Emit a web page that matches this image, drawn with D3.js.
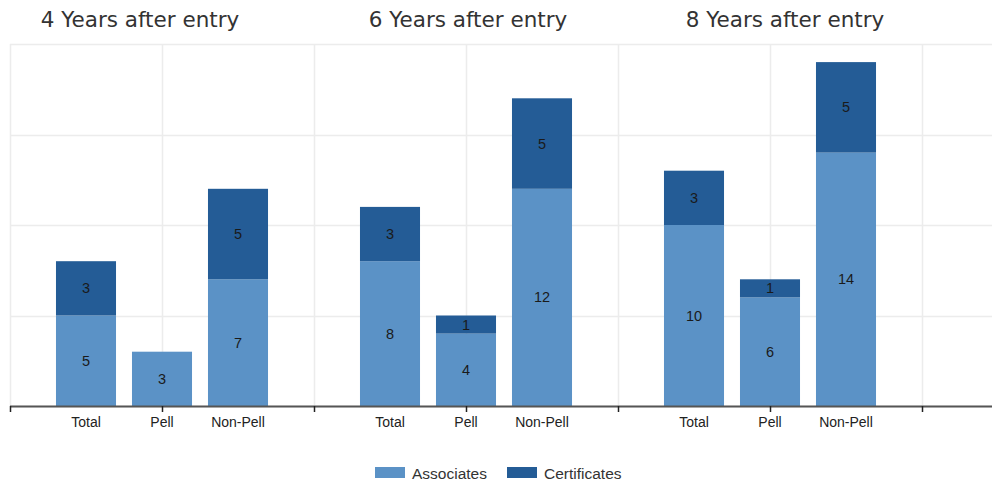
<!DOCTYPE html>
<html><head><meta charset="utf-8">
<script src="https://cdn.jsdelivr.net/npm/d3@7"></script>
<style>html,body{margin:0;padding:0;background:#fff;}svg{display:block;}</style>
</head><body>
<svg id="chart" width="992" height="487"></svg>
<script>
const panels = ["4 Years after entry", "6 Years after entry", "8 Years after entry"];
const categories = ["Total", "Pell", "Non-Pell"];
const seriesNames = ["Associates", "Certificates"];
const associates = [[5, 3, 7], [8, 4, 12], [10, 6, 14]];
const certificates = [[3, 0, 5], [3, 1, 5], [3, 1, 5]];
const yTicks = [0, 5, 10, 15, 20];
const colors = ["#5B92C6", "#245C96"];

(function () {
const svg = d3.select("#chart");
const pLeft = 10, pRight = 992, pTop = 44, pBottom = 406;
const slotW = 76;
const x = d3.scaleLinear().domain([0, (pRight - pLeft) / slotW]).range([pLeft, pRight]);
const y = d3.scaleLinear().domain([0, 20]).range([pBottom, pTop]);
const barW = 0.79;

// gridlines
svg.append("g").selectAll("line").data(yTicks).join("line")
  .attr("x1", pLeft).attr("x2", pRight)
  .attr("y1", d => Math.round(y(d)) + 0.5).attr("y2", d => Math.round(y(d)) + 0.5)
  .attr("stroke", "#ececec").attr("stroke-width", 1.5);
const xTicks = d3.range(0, 13, 2);
svg.append("g").selectAll("line").data(xTicks).join("line")
  .attr("x1", d => Math.round(x(d)) + 0.5).attr("x2", d => Math.round(x(d)) + 0.5)
  .attr("y1", pTop).attr("y2", pBottom)
  .attr("stroke", "#ececec").attr("stroke-width", 1.5);

// titles
const titleX = [140, 468, 785];
svg.append("g").selectAll("text").data(panels).join("text")
  .attr("x", (d, i) => titleX[i]).attr("y", 27)
  .attr("text-anchor", "middle")
  .attr("font-family", "DejaVu Sans, Verdana, sans-serif").attr("font-size", 21.5)
  .attr("fill", "#333").text(d => d);

// bars
const rows = [];
panels.forEach((p, pi) => {
  categories.forEach((c, ci) => {
    const slot = 1 + pi * 4 + ci;
    const a = associates[pi][ci], ce = certificates[pi][ci];
    rows.push({slot, y0: 0, y1: a, v: a, s: 0});
    rows.push({slot, y0: a, y1: a + ce, v: ce, s: 1});
  });
});
const bars = svg.append("g");
bars.selectAll("rect").data(rows.filter(r => r.v > 0)).join("rect")
  .attr("x", d => x(d.slot - barW / 2)).attr("width", x(barW) - x(0))
  .attr("y", d => y(d.y1)).attr("height", d => y(d.y0) - y(d.y1))
  .attr("fill", d => colors[d.s]);
bars.selectAll("text").data(rows.filter(r => r.v > 0)).join("text")
  .attr("x", d => x(d.slot)).attr("y", d => (y(d.y0) + y(d.y1)) / 2 + 5)
  .attr("text-anchor", "middle")
  .attr("font-family", "Liberation Sans, Arial, sans-serif").attr("font-size", 14.5)
  .attr("fill", "#1a1a1a").text(d => d.v);

// x axis
svg.append("line").attr("x1", pLeft).attr("x2", pRight).attr("y1", pBottom + 0.5).attr("y2", pBottom + 0.5)
  .attr("stroke", "#555").attr("stroke-width", 2);
svg.append("g").selectAll("line").data(xTicks).join("line")
  .attr("x1", d => Math.round(x(d)) + 0.5).attr("x2", d => Math.round(x(d)) + 0.5)
  .attr("y1", pBottom).attr("y2", pBottom + 6)
  .attr("stroke", "#222").attr("stroke-width", 1.5);
const labels = [];
panels.forEach((p, pi) => categories.forEach((c, ci) => labels.push({slot: 1 + pi * 4 + ci, c})));
svg.append("g").selectAll("text").data(labels).join("text")
  .attr("x", d => x(d.slot)).attr("y", 427)
  .attr("text-anchor", "middle")
  .attr("font-family", "Liberation Sans, Arial, sans-serif").attr("font-size", 14)
  .attr("fill", "#222").text(d => d.c);

// legend
const leg = svg.append("g");
const legX = [375, 507];
seriesNames.forEach((s, i) => {
  leg.append("rect").attr("x", legX[i]).attr("y", 467).attr("width", 30).attr("height", 11).attr("fill", colors[i]);
  leg.append("text").attr("x", legX[i] + 37).attr("y", 479)
    .attr("font-family", "Liberation Sans, Arial, sans-serif").attr("font-size", 15.5)
    .attr("fill", "#333").text(s);
});
})();
</script>
</body></html>
